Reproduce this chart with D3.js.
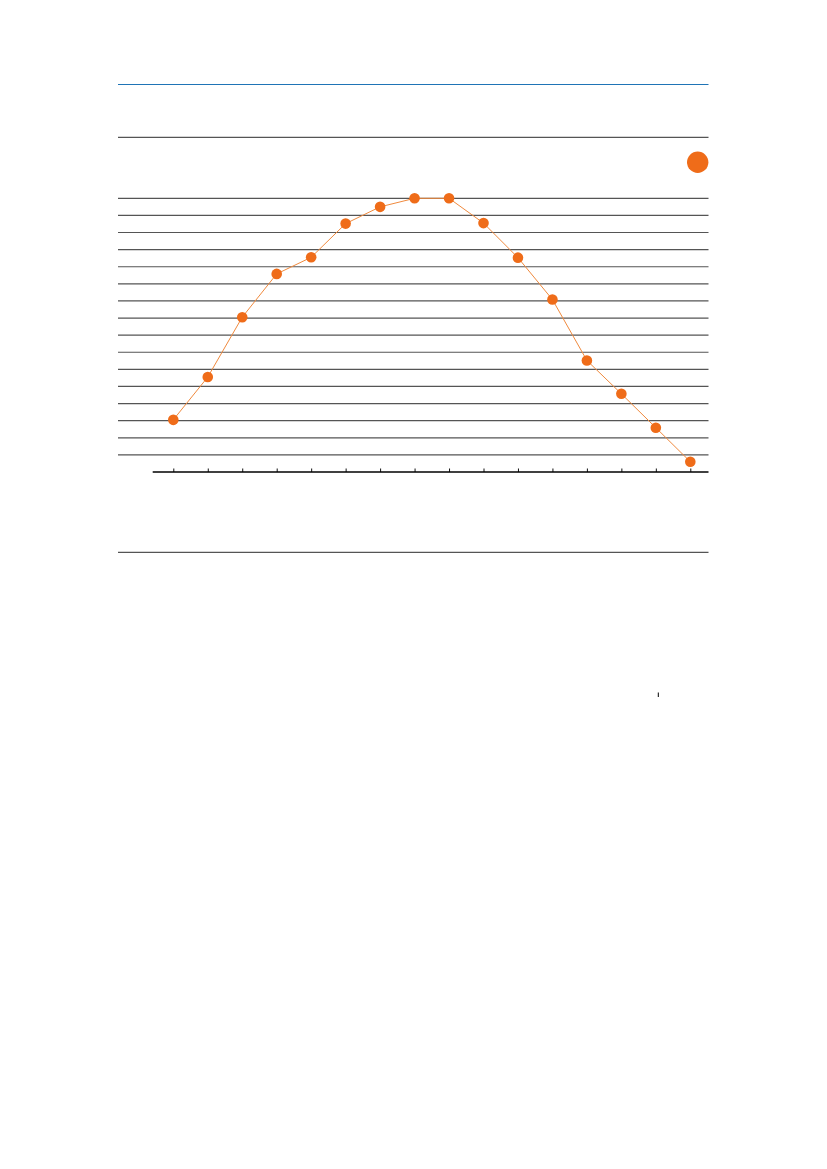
<!DOCTYPE html>
<html>
<head>
<meta charset="utf-8">
<script src="https://cdn.jsdelivr.net/npm/d3@7"></script>
<style>
  html, body { margin: 0; padding: 0; background: #fff; }
  svg { display: block; }
</style>
</head>
<body>
<div id="chart"></div>
<script>
// categories along the x axis (no labels are printed in the figure)
const categories = d3.range(1, 17);
// series values (one gridline = 1 unit)
const values = [3.05, 5.55, 9.05, 11.58, 12.55, 14.52, 15.5, 16.0,
                16.0, 14.55, 12.53, 10.08, 6.52, 4.57, 2.59, 0.6];
const gridValues = d3.range(1, 17);
const tickLabels = categories.map(() => '');

const W = 827, H = 1169;
const ORANGE = '#ef6c19';
const GRID = '#555555';

const svg = d3.select('#chart').append('svg')
     .attr('width', W).attr('height', H)
     .attr('viewBox', `0 0 ${W} ${H}`);

const x = d3.scalePoint().domain(categories).range([173.3, 690.3]);
const y = d3.scaleLinear().domain([0, 16]).range([472, 198.3]);

// frame rules
svg.append('line').attr('x1', 118).attr('x2', 708.5).attr('y1', 84.5).attr('y2', 84.5)
     .attr('stroke', '#1f74b6').attr('stroke-width', 1.2);
svg.append('line').attr('x1', 118).attr('x2', 708.5).attr('y1', 137.3).attr('y2', 137.3)
     .attr('stroke', GRID).attr('stroke-width', 1.2);
svg.append('line').attr('x1', 118).attr('x2', 708.5).attr('y1', 552.3).attr('y2', 552.3)
     .attr('stroke', GRID).attr('stroke-width', 1.2);

// legend marker
svg.append('circle').attr('cx', 697.7).attr('cy', 162.3).attr('r', 10.7).attr('fill', ORANGE);

// horizontal gridlines
svg.append('g').selectAll('line')
     .data(gridValues)
     .join('line')
     .attr('x1', 118).attr('x2', 708.5)
     .attr('y1', d => y(d)).attr('y2', d => y(d))
     .attr('stroke', GRID).attr('stroke-width', 1.2);

// x axis
const axis = d3.axisBottom(x).tickSizeInner(-3.5).tickSizeOuter(0).tickFormat((d, i) => tickLabels[i]);
const ax = svg.append('g').attr('transform', `translate(0,${y(0)})`).call(axis);
ax.select('.domain').remove();
ax.selectAll('.tick line').attr('stroke', '#111').attr('stroke-width', 1);
ax.append('line').attr('x1', 152.7).attr('x2', 708.5).attr('y1', 0).attr('y2', 0)
     .attr('stroke', '#000').attr('stroke-width', 1.3);

// series line + markers
const line = d3.line().x((d, i) => x(categories[i])).y(d => y(d));
svg.append('path').datum(values)
     .attr('d', line)
     .attr('fill', 'none')
     .attr('stroke', '#f08a3e').attr('stroke-width', 1);

svg.append('g').selectAll('circle')
     .data(values)
     .join('circle')
     .attr('cx', (d, i) => x(categories[i]))
     .attr('cy', d => y(d))
     .attr('r', 5.3)
     .attr('fill', ORANGE);

// stray mark below the chart
svg.append('line').attr('x1', 658.3).attr('x2', 658.3).attr('y1', 692.5).attr('y2', 697)
     .attr('stroke', '#000').attr('stroke-width', 1);
</script>
</body>
</html>
